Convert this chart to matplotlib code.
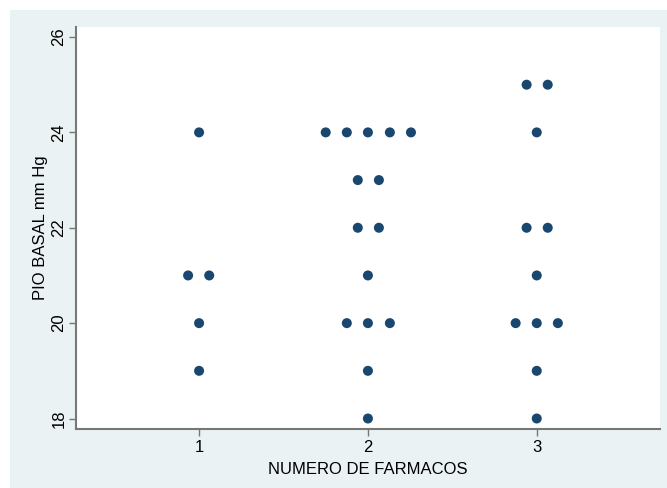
import matplotlib.pyplot as plt
from matplotlib.patches import Rectangle

plt.rcParams['font.family'] = ['Liberation Sans', 'DejaVu Sans']

# Jittered dot positions (numero de farmacos, PIO basal)
x_pos = [1.0, 0.935, 1.06, 1.0, 1.0,
         1.75, 1.875, 2.0, 2.13, 2.255, 1.94, 2.065, 1.94, 2.065, 2.0,
         1.875, 2.0, 2.13, 2.0, 2.0,
         2.94, 3.065, 3.0, 2.94, 3.065, 3.0, 2.875, 3.0, 3.125, 3.0, 3.0]
pio = [24, 21, 21, 20, 19,
       24, 24, 24, 24, 24, 23, 23, 22, 22, 21,
       20, 20, 20, 19, 18,
       25, 25, 24, 22, 22, 21, 20, 20, 20, 19, 18]

x_ticks = [1, 2, 3]
y_ticks = [18, 20, 22, 24, 26]

W, H = 667, 488
fig = plt.figure(figsize=(W / 100, H / 100), dpi=100)
fig.patch.set_facecolor('white')
# Stata-style light background panel
fig.patches.append(Rectangle((10 / W, 0), 1 - 10 / W, 1 - 10 / H,
                             transform=fig.transFigure, facecolor='#EAF2F3',
                             edgecolor='none', zorder=-10))

ax = fig.add_axes([76 / W, 1 - 429 / H, (660 - 76) / W, (429 - 27) / H])
ax.set_zorder(5)
ax.set_facecolor('white')
ax.scatter(x_pos, pio, s=52, color='#1A476F', edgecolors='none', zorder=3)

ax.set_xlim(0.271, 3.73)
ax.set_ylim(17.78, 26.21)
ax.set_xticks(x_ticks)
ax.set_yticks(y_ticks)
ax.tick_params(axis='y', labelrotation=90, length=5, width=1, color='#777777',
               labelsize=12, pad=2)
ax.tick_params(axis='x', length=5, width=1, color='#777777', labelsize=12, pad=3)
for lbl in ax.get_yticklabels():
    lbl.set_va('center')

for side in ['top', 'right']:
    ax.spines[side].set_visible(False)
for side in ['left', 'bottom']:
    ax.spines[side].set_color('#777777')
    ax.spines[side].set_linewidth(1.5)

ax.set_xlabel('NUMERO DE FARMACOS', fontsize=12, labelpad=5)
ax.set_ylabel('PIO BASAL mm Hg', fontsize=12, labelpad=2)

fig.savefig('out.png', dpi=100, facecolor=fig.get_facecolor())
